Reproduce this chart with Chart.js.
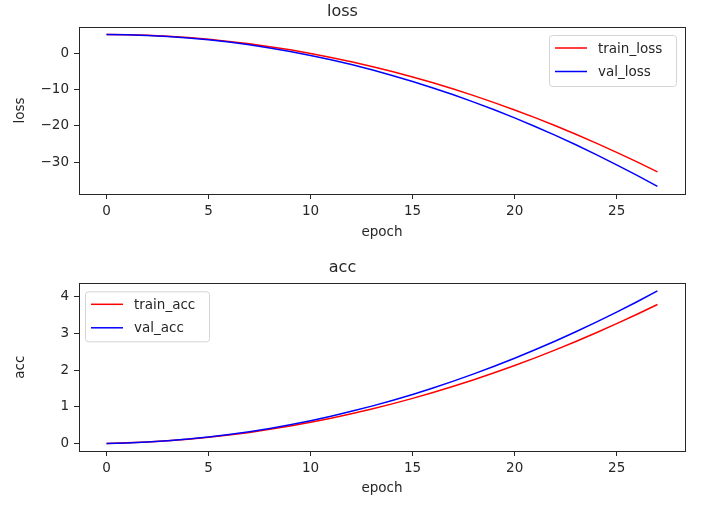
<!DOCTYPE html>
<html>
<head>
<meta charset="utf-8">
<script src="https://cdn.jsdelivr.net/npm/chart.js@4/dist/chart.umd.min.js"></script>
<style>
  html,body{margin:0;padding:0;background:#fff;}
  #wrap{position:relative;width:720px;height:505px;overflow:hidden;}
  canvas{position:absolute;left:0;}
</style>
</head>
<body>
<div id="wrap">
  <canvas id="c1" width="720" height="250" style="top:0"></canvas>
  <canvas id="c2" width="720" height="255" style="top:250px"></canvas>
</div>
<script>
const epochs=[0,1,2,3,4,5,6,7,8,9,10,11,12,13,14,15,16,17,18,19,20,21,22,23,24,25,26,27];
const trainLoss=[5.2,5.15,4.99,4.73,4.37,3.9,3.33,2.65,1.87,0.99,0.0,-1.09,-2.29,-3.59,-4.99,-6.5,-8.11,-9.83,-11.65,-13.57,-15.6,-17.73,-19.97,-22.31,-24.75,-27.3,-29.95,-32.71];
const valLoss=[5.2,5.14,4.97,4.68,4.28,3.76,3.13,2.38,1.52,0.54,-0.55,-1.76,-3.08,-4.52,-6.07,-7.74,-9.52,-11.42,-13.43,-15.56,-17.8,-20.16,-22.63,-25.22,-27.92,-30.74,-33.67,-36.72];
const trainAcc=[0,0.014,0.037,0.07,0.113,0.166,0.228,0.3,0.382,0.474,0.575,0.686,0.807,0.938,1.078,1.228,1.388,1.558,1.737,1.926,2.125,2.334,2.552,2.78,3.018,3.266,3.523,3.79];
const valAcc=[0,0.013,0.037,0.072,0.118,0.175,0.242,0.32,0.409,0.509,0.62,0.742,0.874,1.017,1.171,1.336,1.512,1.698,1.896,2.104,2.323,2.553,2.794,3.045,3.308,3.581,3.865,4.16];
const xTicks=[0,5,10,15,20,25];
const lossTicks=[-30,-20,-10,0];
const accTicks=[0,1,2,3,4];

const INK='#262626';
const FONT="'DejaVu Sans', sans-serif";

const frame={id:'frame',afterDraw(chart){
  const{ctx,chartArea:{left,right,top,bottom}}=chart;
  ctx.save();ctx.strokeStyle=INK;ctx.lineWidth=1;
  ctx.strokeRect(Math.round(left)+0.5,Math.round(top)+0.5,Math.round(right-left),Math.round(bottom-top));
  ctx.restore();
}};

// matplotlib-like legend box inside the axes
const boxLegend={id:'boxLegend',afterDraw(chart,args,o){
  const{ctx,chartArea:{left,right,top}}=chart;
  const ds=chart.data.datasets;
  const w=o.w,h=o.h;
  const x=o.side==='right'?right-9-w:left+6;
  const y=top+8;
  ctx.save();
  ctx.fillStyle='rgba(255,255,255,0.8)';ctx.strokeStyle='#d4d4d4';ctx.lineWidth=1;
  ctx.beginPath();ctx.roundRect(x+0.5,y+0.5,w,h,3);ctx.fill();ctx.stroke();
  ctx.font='13.5px '+FONT;ctx.textBaseline='middle';ctx.fillStyle=INK;
  ds.forEach((d,i)=>{
    const ly=y+13+i*23.5;
    ctx.strokeStyle=d.borderColor;ctx.lineWidth=1.5;
    ctx.beginPath();ctx.moveTo(x+6,ly);ctx.lineTo(x+38,ly);ctx.stroke();
    ctx.fillText(d.label,x+49,ly+1);
  });
  ctx.restore();
}};

const fmt=v=>v<0?'\u2212'+Math.abs(v):String(v);
const pts=a=>epochs.map((e,i)=>({x:e,y:a[i]}));

function makeChart(id,opt){
  return new Chart(document.getElementById(id),{
    type:'line',
    data:{datasets:[
      {label:opt.names[0],data:pts(opt.a),borderColor:'#ff0000',borderWidth:1.5,pointRadius:0,tension:0,fill:false,order:1},
      {label:opt.names[1],data:pts(opt.b),borderColor:'#0000ff',borderWidth:1.5,pointRadius:0,tension:0,fill:false,order:0}
    ]},
    options:{
      responsive:false,animation:false,devicePixelRatio:1,
      layout:{padding:{left:0,right:35,top:0,bottom:0}},
      plugins:{
        legend:{display:false},tooltip:{enabled:false},
        title:{display:true,text:opt.title,color:INK,font:{family:FONT,size:16,weight:'normal'},padding:opt.titlePad},
        boxLegend:opt.legend
      },
      scales:{
        x:{type:'linear',min:-1.35,max:28.35,
          afterBuildTicks:s=>{s.ticks=xTicks.map(v=>({value:v}));},
          afterFit:s=>{s.height=opt.xh;},
          border:{display:false},
          grid:{drawOnChartArea:false,drawTicks:true,tickLength:5,color:INK,tickWidth:1},
          ticks:{color:INK,font:{family:FONT,size:13.5},padding:4,maxRotation:0,callback:fmt},
          title:{display:true,text:'epoch',color:INK,font:{family:FONT,size:13.5},padding:{top:0,bottom:opt.xtPad}}
        },
        y:{type:'linear',min:opt.ymin,max:opt.ymax,
          afterBuildTicks:s=>{s.ticks=opt.yt.map(v=>({value:v}));},
          afterFit:s=>{s.width=79;},
          border:{display:false},
          grid:{drawOnChartArea:false,drawTicks:true,tickLength:5,color:INK,tickWidth:1},
          ticks:{color:INK,font:{family:FONT,size:13.5},padding:5,callback:fmt},
          title:{display:true,text:opt.ylabel,color:INK,font:{family:FONT,size:13.5},padding:{top:12,bottom:0}}
        }
      }
    },
    plugins:[frame,boxLegend]
  });
}

makeChart('c1',{a:trainLoss,b:valLoss,names:['train_loss','val_loss'],title:'loss',ylabel:'loss',
  ymin:-38.8,ymax:7.3,yt:lossTicks,xh:56,xtPad:9,titlePad:{top:2.4,bottom:5.4},
  legend:{side:'right',w:127,h:51}});
makeChart('c2',{a:trainAcc,b:valAcc,names:['train_acc','val_acc'],title:'acc',ylabel:'acc',
  ymin:-0.208,ymax:4.368,yt:accTicks,xh:54,xtPad:8.6,titlePad:{top:8.7,bottom:5.4},
  legend:{side:'left',w:124,h:50}});
</script>
</body>
</html>
